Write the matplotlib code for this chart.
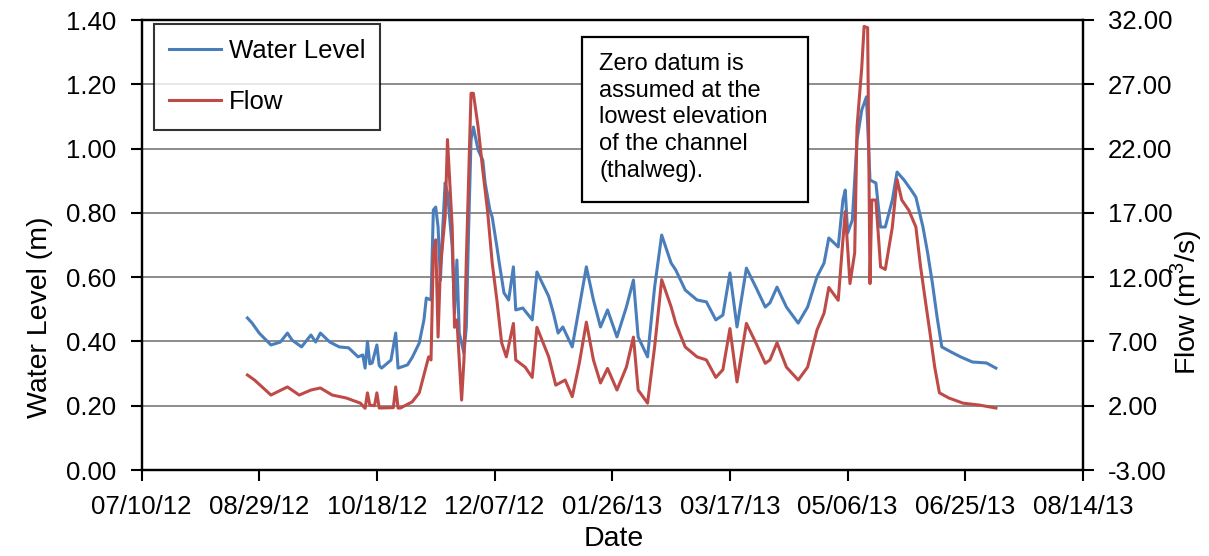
import numpy as np
import pandas as pd
import matplotlib
matplotlib.use('Agg')
import matplotlib.pyplot as plt
from matplotlib.patches import Rectangle

plt.rcParams['font.family'] = ['Liberation Sans', 'DejaVu Sans']
plt.rcParams['mathtext.fontset'] = 'custom'
plt.rcParams['mathtext.rm'] = 'Liberation Sans'

# water level (m)
wl_dates = ['2012-08-24', '2012-08-26', '2012-08-29', '2012-09-03', '2012-09-07', '2012-09-10',
            '2012-09-12', '2012-09-16', '2012-09-20', '2012-09-22', '2012-09-24', '2012-09-28',
            '2012-10-02', '2012-10-06', '2012-10-10', '2012-10-12', '2012-10-13', '2012-10-14',
            '2012-10-15', '2012-10-16', '2012-10-18', '2012-10-19', '2012-10-20', '2012-10-24',
            '2012-10-26', '2012-10-27', '2012-10-31', '2012-11-02', '2012-11-05', '2012-11-07',
            '2012-11-08', '2012-11-10', '2012-11-11', '2012-11-12', '2012-11-13', '2012-11-14',
            '2012-11-15', '2012-11-16', '2012-11-17', '2012-11-19', '2012-11-20', '2012-11-21',
            '2012-11-22', '2012-11-24', '2012-11-25', '2012-11-26', '2012-11-27', '2012-11-28',
            '2012-11-30', '2012-12-02', '2012-12-03', '2012-12-05', '2012-12-06', '2012-12-08',
            '2012-12-09', '2012-12-11', '2012-12-13', '2012-12-15', '2012-12-16', '2012-12-19',
            '2012-12-23', '2012-12-25', '2012-12-30', '2013-01-01', '2013-01-03', '2013-01-05',
            '2013-01-09', '2013-01-12', '2013-01-15', '2013-01-18', '2013-01-21', '2013-01-24',
            '2013-01-28', '2013-02-01', '2013-02-04', '2013-02-06', '2013-02-10', '2013-02-13',
            '2013-02-16', '2013-02-20', '2013-02-22', '2013-02-26', '2013-03-03', '2013-03-07',
            '2013-03-11', '2013-03-14', '2013-03-17', '2013-03-20', '2013-03-24', '2013-03-28',
            '2013-04-01', '2013-04-03', '2013-04-06', '2013-04-10', '2013-04-15', '2013-04-19',
            '2013-04-23', '2013-04-26', '2013-04-28', '2013-05-02', '2013-05-04', '2013-05-05',
            '2013-05-06', '2013-05-08', '2013-05-10', '2013-05-12', '2013-05-14', '2013-05-15 12:00',
            '2013-05-18', '2013-05-20', '2013-05-22', '2013-05-25', '2013-05-27', '2013-05-30',
            '2013-06-02', '2013-06-04', '2013-06-07', '2013-06-09', '2013-06-11', '2013-06-13',
            '2013-06-15', '2013-06-19', '2013-06-23', '2013-06-28', '2013-07-04', '2013-07-08']
wl_values = [0.473, 0.457, 0.426, 0.389, 0.398, 0.426,
             0.404, 0.383, 0.420, 0.398, 0.426, 0.398,
             0.383, 0.380, 0.352, 0.358, 0.317, 0.400,
             0.330, 0.333, 0.389, 0.325, 0.317, 0.342,
             0.426, 0.317, 0.327, 0.350, 0.395, 0.467,
             0.535, 0.529, 0.809, 0.818, 0.756, 0.590,
             0.756, 0.893, 0.862, 0.694, 0.488, 0.653,
             0.426, 0.364, 0.445, 0.756, 1.027, 1.067,
             0.996, 0.964, 0.893, 0.809, 0.787, 0.694,
             0.644, 0.551, 0.529, 0.632, 0.498, 0.504,
             0.467, 0.616, 0.540, 0.488, 0.426, 0.445,
             0.383, 0.507, 0.632, 0.529, 0.445, 0.498,
             0.414, 0.507, 0.591, 0.414, 0.352, 0.569,
             0.731, 0.644, 0.622, 0.560, 0.529, 0.523,
             0.467, 0.482, 0.613, 0.445, 0.628, 0.569,
             0.507, 0.520, 0.569, 0.507, 0.457, 0.507,
             0.601, 0.644, 0.722, 0.694, 0.840, 0.871,
             0.737, 0.778, 1.027, 1.120, 1.161, 0.902,
             0.893, 0.756, 0.756, 0.840, 0.927, 0.902,
             0.871, 0.849, 0.756, 0.675, 0.582, 0.476,
             0.383, 0.367, 0.352, 0.336, 0.333, 0.317]

# flow (m3/s)
flow_dates = ['2012-08-24', '2012-08-27', '2012-09-03', '2012-09-10', '2012-09-15', '2012-09-20',
              '2012-09-24', '2012-09-29', '2012-10-05', '2012-10-11', '2012-10-13', '2012-10-14',
              '2012-10-15', '2012-10-17', '2012-10-18', '2012-10-19', '2012-10-25', '2012-10-26',
              '2012-10-27', '2012-10-28', '2012-11-02', '2012-11-05', '2012-11-09', '2012-11-10',
              '2012-11-11', '2012-11-12', '2012-11-13', '2012-11-14', '2012-11-16', '2012-11-17',
              '2012-11-19', '2012-11-20', '2012-11-21', '2012-11-23', '2012-11-24', '2012-11-25',
              '2012-11-27', '2012-11-28', '2012-11-30', '2012-12-02', '2012-12-04', '2012-12-06',
              '2012-12-08', '2012-12-10', '2012-12-12', '2012-12-15', '2012-12-16', '2012-12-20',
              '2012-12-23', '2012-12-25', '2012-12-30', '2013-01-02', '2013-01-06', '2013-01-09',
              '2013-01-12', '2013-01-15', '2013-01-18', '2013-01-21', '2013-01-24', '2013-01-28',
              '2013-02-01', '2013-02-04', '2013-02-06', '2013-02-10', '2013-02-13', '2013-02-16',
              '2013-02-20', '2013-02-22', '2013-02-26', '2013-03-03', '2013-03-07', '2013-03-11',
              '2013-03-14', '2013-03-17', '2013-03-20', '2013-03-24', '2013-03-28', '2013-04-01',
              '2013-04-03', '2013-04-06', '2013-04-10', '2013-04-15', '2013-04-19', '2013-04-23',
              '2013-04-26', '2013-04-28', '2013-05-02', '2013-05-04', '2013-05-05', '2013-05-06',
              '2013-05-07', '2013-05-09', '2013-05-10', '2013-05-12', '2013-05-13', '2013-05-14 12:00',
              '2013-05-15 12:00', '2013-05-16 06:00', '2013-05-18', '2013-05-20', '2013-05-22', '2013-05-25',
              '2013-05-27', '2013-05-29', '2013-06-01', '2013-06-04', '2013-06-06', '2013-06-08',
              '2013-06-10', '2013-06-12', '2013-06-14', '2013-06-18', '2013-06-24', '2013-07-01',
              '2013-07-08']
flow_values = [4.39, 4.0, 2.83, 3.46, 2.83, 3.22,
               3.38, 2.83, 2.6, 2.2, 1.8, 3.0,
               2.05, 2.0, 3.0, 1.82, 1.85, 3.46,
               1.82, 1.82, 2.3, 3.0, 5.8, 5.56,
               13.9, 14.9, 7.34, 12.8, 16.7, 22.7,
               15.9, 8.1, 8.67, 2.44, 5.56, 13.3,
               26.3, 26.3, 23.7, 20.3, 17.2, 13.1,
               10.2, 6.9, 5.8, 8.4, 5.56, 5.0,
               4.2, 8.1, 5.8, 3.6, 4.0, 2.7,
               5.3, 8.5, 5.56, 3.77, 4.9, 3.22,
               5.0, 7.34, 3.22, 2.2, 6.57, 11.8,
               9.7, 8.4, 6.57, 5.8, 5.56, 4.2,
               4.8, 8.0, 3.85, 8.4, 6.9, 5.3,
               5.56, 6.9, 5.0, 4.0, 5.0, 7.9,
               9.2, 11.2, 10.2, 14.9, 17.1, 14.3,
               11.5, 13.9, 23.7, 28.3, 31.5, 31.4,
               11.5, 18.0, 18.0, 12.8, 12.6, 15.9,
               19.6, 18.0, 17.2, 15.9, 12.8, 10.2,
               7.65, 5.0, 3.0, 2.6, 2.2, 2.05,
               1.82]

note = 'Zero datum is\nassumed at the\nlowest elevation\nof the channel\n(thalweg).'

wl_ticks = [0.0, 0.2, 0.4, 0.6, 0.8, 1.0, 1.2, 1.4]
flow_ticks = [-3, 2, 7, 12, 17, 22, 27, 32]
x_ticks = pd.date_range('2012-07-10', periods=9, freq='50D')

blue = '#4a7ebb'
red = '#be4b48'
fs = 18.5

fig = plt.figure(figsize=(12.09, 5.56), dpi=100)
ax = fig.add_axes([141.5 / 1209, 86 / 556, 941.5 / 1209, 450 / 556])
ax2 = ax.twinx()

l1, = ax.plot(pd.to_datetime(wl_dates, format='mixed'), wl_values, color=blue, lw=2.2, label='Water Level')
l2, = ax2.plot(pd.to_datetime(flow_dates, format='mixed'), flow_values, color=red, lw=2.2, label='Flow')

ax.set_xlim(x_ticks[0], x_ticks[-1])
ax.set_xticks(x_ticks)
ax.set_xticklabels([d.strftime('%m/%d/%y') for d in x_ticks])
ax.set_ylim(0, 1.4)
ax.set_yticks(wl_ticks)
ax.set_yticklabels(['%.2f' % v for v in wl_ticks])
ax2.set_ylim(-3, 32)
ax2.set_yticks(flow_ticks)
ax2.set_yticklabels(['%.2f' % v for v in flow_ticks])

ax.yaxis.grid(True, color='#8c8c8c', lw=1.4)
ax.set_axisbelow(True)

for a in (ax, ax2):
    for s in a.spines.values():
        s.set_linewidth(1.6)
        s.set_color('black')
    a.tick_params(direction='out', length=8, width=1.5, labelsize=fs, pad=10)

ax.set_xlabel('Date', fontsize=20.5)
ax.xaxis.set_label_coords(0.502, -0.125)
ax.set_ylabel('Water Level (m)', fontsize=20.5)
ax.yaxis.set_label_coords(-0.094, 0.34)
ax2.set_ylabel('Flow (m$^\\mathregular{3}$/s)', fontsize=20.5)
ax2.yaxis.set_label_coords(1.09, 0.373)

leg = ax2.legend(handles=[l1, l2], loc='upper left', bbox_to_anchor=(154 / 1209, 1 - 24 / 556),
                 bbox_transform=fig.transFigure, fontsize=fs, frameon=True, fancybox=False,
                 edgecolor='black', borderaxespad=0, handlelength=2.0, handletextpad=0.3,
                 labelspacing=1.05, borderpad=0.6)
leg.get_frame().set_linewidth(1.5)

# note box
ax2.add_patch(Rectangle((0.468, 0.596), 0.240, 0.366, transform=ax2.transAxes,
                        facecolor='white', edgecolor='black', lw=1.6, zorder=5))
ax2.text(0.486, 0.926, note, transform=ax2.transAxes, fontsize=17, va='top', ha='left',
         linespacing=1.27, zorder=6)

plt.savefig('out.png', dpi=100)
plt.close()
